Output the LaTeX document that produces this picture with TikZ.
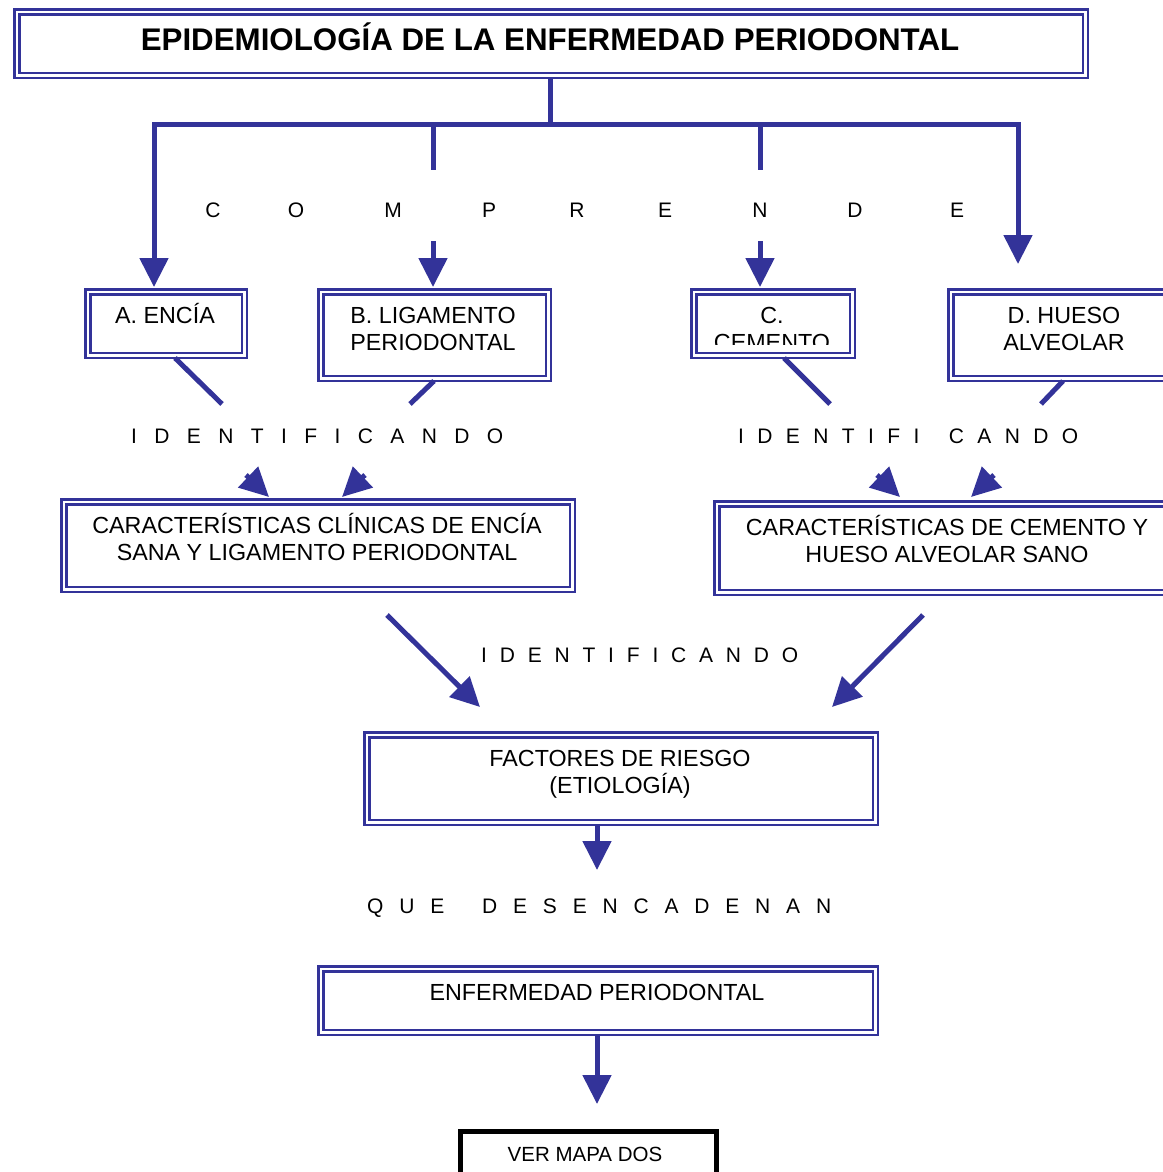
\documentclass[tikz,border=0pt]{standalone}
\usepackage{fontspec}
\setmainfont{Liberation Sans}
\usetikzlibrary{arrows.meta}
\definecolor{bl}{RGB}{51,51,153}
\newcommand\mkbox[6][dbox]{\node[#1, anchor=north west, minimum width={#5-#3-7.5}, minimum height={#6-#4-7.5}] (#2) at ({#3+3.75},{#4+3.75}) {};}
\tikzset{
  dbox/.style={draw=bl, line width=2.5pt, double=white, double distance=2.5pt, inner sep=0pt},
  conn/.style={draw=bl, line width=5pt},
  arr/.style={conn, -{Triangle[length=29pt,width=28pt]}},
  txt/.style={anchor=base, inner sep=0pt, font=\fontsize{23.3}{27}\selectfont},
  ttl/.style={anchor=base, inner sep=0pt, font=\fontsize{31.3}{36}\selectfont\bfseries},
  sptxt/.style={anchor=base west, inner sep=0pt, font=\fontsize{21}{25}\selectfont},
  letter/.style={anchor=base, inner sep=0pt, font=\fontsize{21}{25}\selectfont},
}
\begin{document}
\begin{tikzpicture}[x=1pt,y=-1pt]
\useasboundingbox (0,0) rectangle (1162,1172);

% boxes
\mkbox{T}{12}{7}{1088}{78}
\mkbox{A}{83}{287}{247}{358}
\mkbox{B}{316}{287}{551}{381}
\mkbox{C}{689}{287}{855}{358}
\mkbox{D}{946}{287}{1185}{381}
\mkbox{E}{59}{497}{575}{592}
\mkbox{F}{712}{499}{1185}{595}
\mkbox{G}{362}{730}{878}{825}
\mkbox{H}{316}{964}{878}{1035}
\node[draw=black, line width=5pt, anchor=north west, minimum width=256pt, minimum height=70pt, inner sep=0pt] (I) at (457.5,1128.5) {};

% texts
\node[ttl] (Tt) at (550,51) {EPIDEMIOLOGÍA DE LA ENFERMEDAD PERIODONTAL};
\node[txt] (At) at (165,323) {A. ENCÍA};
\node[txt] (Bt1) at (433,323) {B. LIGAMENTO};
\node[txt] (Bt2) at (433,350) {PERIODONTAL};
\node[txt] (Ct1) at (772,323) {C.};
\begin{scope}
  \clip (689,287) rectangle (855,344);
  \node[txt] (Ct2) at (772,350) {CEMENTO};
\end{scope}
\node[txt] (Dt1) at (1064,323) {D. HUESO};
\node[txt] (Dt2) at (1064,350) {ALVEOLAR};
\node[txt] (Et1) at (317,533) {CARACTERÍSTICAS CLÍNICAS DE ENCÍA};
\node[txt] (Et2) at (317,560) {SANA Y LIGAMENTO PERIODONTAL};
\node[txt] (Ft1) at (947,535) {CARACTERÍSTICAS DE CEMENTO Y};
\node[txt] (Ft2) at (947,562) {HUESO ALVEOLAR SANO};
\node[txt] (Gt1) at (620,766) {FACTORES DE RIESGO};
\node[txt] (Gt2) at (620,793) {(ETIOLOGÍA)};
\node[txt] (Ht) at (597,1000) {ENFERMEDAD PERIODONTAL};
\node[txt, font=\fontsize{20.5}{25}\selectfont] (It) at (585,1161) {VER MAPA DOS};

% spaced words
\foreach \x/\l/\n in {213/C/1,296/O/2,393/M/3,489/P/4,577/R/5,665/E/6,760/N/7,855/D/8,957/E/9}
  \node[letter] (cp\n) at (\x,217) {\l};
\node[sptxt] (id1) at (131,443) {\hbox to 372pt{I\hfill D\hfill E\hfill N\hfill T\hfill I\hfill F\hfill I\hfill C\hfill A\hfill N\hfill D\hfill O}};
\node[sptxt] (id2) at (738,443) {\hbox to 340pt{I\hfill D\hfill E\hfill N\hfill T\hfill I\hfill F\hfill I\hspace{16pt}\hfill C\hfill A\hfill N\hfill D\hfill O}};
\node[sptxt] (id3) at (481,662) {\hbox to 317pt{I\hfill D\hfill E\hfill N\hfill T\hfill I\hfill F\hfill I\hfill C\hfill A\hfill N\hfill D\hfill O}};
\node[sptxt] (qd) at (367,913) {\hbox to 464pt{Q\hfill U\hfill E\hspace{22pt}\hfill D\hfill E\hfill S\hfill E\hfill N\hfill C\hfill A\hfill D\hfill E\hfill N\hfill A\hfill N}};

% top tree
\coordinate (t0) at (550,78);
\coordinate (j0) at (550,124);
\coordinate (Atip) at (154,287);
\coordinate (Dtip) at (1018,264);
\coordinate (jb) at (433,124);
\coordinate (jb2) at (433,170);
\coordinate (jb3) at (433,241);
\coordinate (Btip) at (433,287);
\coordinate (jc) at (760,124);
\coordinate (jc2) at (760,170);
\coordinate (jc3) at (760,241);
\coordinate (Ctip) at (760,287);
\draw[conn] (t0) -- (j0);
\draw[arr] (j0) -| (Atip);
\draw[arr] (j0) -| (Dtip);
\draw[conn] (jb) -- (jb2);
\draw[arr] (jb3) -- (Btip);
\draw[conn] (jc) -- (jc2);
\draw[arr] (jc3) -- (Ctip);

% diagonal stubs from boxes
\coordinate (a0) at (175,358); \coordinate (a1) at (222,404);
\coordinate (b0) at (434,381); \coordinate (b1) at (410,404);
\coordinate (c0) at (784,358); \coordinate (c1) at (830,404);
\coordinate (d0) at (1063,381); \coordinate (d1) at (1041,404);
\draw[conn] (a0) -- (a1);
\draw[conn] (b0) -- (b1);
\draw[conn] (c0) -- (c1);
\draw[conn] (d0) -- (d1);

% arrowheads onto lower boxes
\coordinate (e1s) at (246,475); \coordinate (e1t) at (269,497);
\coordinate (e2s) at (365,475); \coordinate (e2t) at (342,497);
\coordinate (f1s) at (877,475); \coordinate (f1t) at (900,497);
\coordinate (f2s) at (994,475); \coordinate (f2t) at (971,497);
\draw[arr] (e1s) -- (e1t);
\draw[arr] (e2s) -- (e2t);
\draw[arr] (f1s) -- (f1t);
\draw[arr] (f2s) -- (f2t);

% big diagonal arrows
\coordinate (g1s) at (387,615); \coordinate (g1t) at (480,707);
\coordinate (g2s) at (923,615); \coordinate (g2t) at (832,707);
\draw[arr] (g1s) -- (g1t);
\draw[arr] (g2s) -- (g2t);

% lower arrows
\coordinate (gs) at (597,825); \coordinate (gt) at (597,870);
\draw[arr] (gs) -- (gt);
\coordinate (hs) at (597,1035); \coordinate (ht) at (597,1104);
\draw[arr] (hs) -- (ht);
\end{tikzpicture}
\end{document}
